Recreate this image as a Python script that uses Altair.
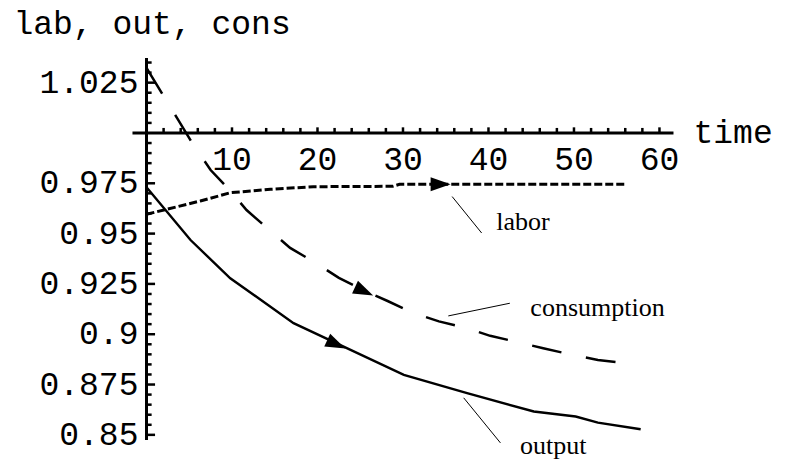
import altair as alt
import pandas as pd

# ---------------- data ----------------
labor_t = [0, 6.3, 9.8, 14.5, 19.5, 28.8, 29.6, 56.0]
labor_v = [0.9596, 0.9662, 0.9703, 0.9720, 0.9733, 0.9735, 0.9745, 0.9745]

output_t = [0, 5.15, 9.8, 17.2, 30.1, 37.5, 45.3, 50.2, 52.8, 57.8]
output_v = [0.9730, 0.9468, 0.9278, 0.9055, 0.8798, 0.8707, 0.8616, 0.8591, 0.8561, 0.8528]

cons_t = [0, 5.5, 7.5, 9.7, 11.7, 14.5, 16.8, 19.8, 22.5, 25.3, 28.2, 31.2,
          34.2, 37.5, 40.2, 43.5, 46.4, 49.9, 52.8, 56.1]
cons_v = [1.0323, 0.9940, 0.9816, 0.9717, 0.9617, 0.9513, 0.9429, 0.9354, 0.9280,
          0.9220, 0.9165, 0.9106, 0.9064, 0.9030, 0.8992, 0.8960, 0.8930, 0.8897,
          0.8872, 0.8856]

x_major = [10, 20, 30, 40, 50, 60]
x_labels = ["10", "20", "30", "40", "50", "60"]
y_major = [0.85, 0.875, 0.9, 0.925, 0.95, 0.975, 1.025]
y_labels = ["0.85", "0.875", "0.9", "0.925", "0.95", "0.975", "1.025"]

title_text = "lab, out, cons"
x_title = "time"
annot_text = ["labor", "consumption", "output"]
annot_t = [40.9, 44.9, 43.7]
annot_v = [0.9520, 0.9091, 0.8405]
pointer_t = [35.75, 35.3, 37.1]
pointer_v = [0.9684, 0.9091, 0.8684]
pointer_t2 = [39.2, 42.5, 41.4]
pointer_v2 = [0.9503, 0.9154, 0.8460]

arrow_t = [34.4, 25.45, 22.2]
arrow_v = [0.9745, 0.9213, 0.8950]
arrow_angle = [0, 25, 25]

# ---------------- scales ----------------
XD = [-16.2, 74.683]
YD = [0.8375, 1.0621]
W, H = 777, 452


def X(f="t", **kw):
    return alt.X(f + ":Q", scale=alt.Scale(domain=XD, nice=False, zero=False), axis=None, **kw)


def Y(f="v", **kw):
    return alt.Y(f + ":Q", scale=alt.Scale(domain=YD, nice=False, zero=False), axis=None, **kw)


def line(ts, vs, **style):
    df = pd.DataFrame({"t": ts, "v": vs, "o": range(len(ts))})
    return alt.Chart(df).mark_line(color="black", **style).encode(
        x=X(), y=Y(), order="o:Q")


layers = []

# axes
xa = pd.DataFrame({"t": [-1.64], "t2": [61.64], "v": [1.0]})
layers.append(alt.Chart(xa).mark_rule(color="black", strokeWidth=3).encode(
    x=X(), x2=alt.X2("t2"), y=Y()))
ya = pd.DataFrame({"t": [0.0], "v": [0.8475], "v2": [1.0373]})
layers.append(alt.Chart(ya).mark_rule(color="black", strokeWidth=3).encode(
    x=X(), y=Y(), y2=alt.Y2("v2")))

# x ticks (upward)
xt = [2 * i for i in range(1, 31)]
xtdf = pd.DataFrame({"t": xt, "v": [1.0] * len(xt),
                     "v2": [1.0 + (0.0028 if t % 10 == 0 else 0.0025) for t in xt]})
layers.append(alt.Chart(xtdf).mark_rule(color="black", strokeWidth=2.5).encode(
    x=X(), y=Y(), y2=alt.Y2("v2")))

# y ticks (to the right)
yt = [round(0.85 + 0.005 * i, 4) for i in range(0, 38)]
yt = [v for v in yt if abs(v - 1.0) > 1e-9]
ytdf = pd.DataFrame({"v": yt, "t": [0.0] * len(yt),
                     "t2": [1.0 if abs(round(v / 0.025) * 0.025 - v) < 1e-9 else 0.6 for v in yt]})
layers.append(alt.Chart(ytdf).mark_rule(color="black", strokeWidth=2.5).encode(
    x=X(), x2=alt.X2("t2"), y=Y()))

# tick labels
xl = pd.DataFrame({"t": x_major, "v": [0.9866] * len(x_major), "s": x_labels})
layers.append(alt.Chart(xl).mark_text(font="Liberation Mono", fontSize=33, align="center",
                                      baseline="middle", color="black").encode(
    x=X(), y=Y(), text="s:N"))
yl = pd.DataFrame({"t": [-0.94] * len(y_major), "v": y_major, "s": y_labels})
layers.append(alt.Chart(yl).mark_text(font="Liberation Mono", fontSize=33, align="right",
                                      baseline="middle", color="black").encode(
    x=X(), y=Y(), text="s:N"))

# axis title + chart title
tt = pd.DataFrame({"t": [63.98, -15.56], "v": [1.0, 1.0492], "s": [x_title, title_text]})
layers.append(alt.Chart(tt.iloc[[0]]).mark_text(font="Liberation Mono", fontSize=33, align="left",
                                                baseline="middle", color="black").encode(
    x=X(), y=Y(), text="s:N"))
layers.append(alt.Chart(tt.iloc[[1]]).mark_text(font="Liberation Mono", fontSize=33, align="left",
                                                baseline="alphabetic", color="black").encode(
    x=X(), y=Y(), text="s:N"))

# series
layers.append(line(output_t, output_v, strokeWidth=2.4))
layers.append(line(cons_t, cons_v, strokeWidth=2.5, strokeDash=[30, 25]))
layers.append(line(labor_t, labor_v, strokeWidth=3, strokeDash=[8, 3]))

# arrowheads
for t, v, a in zip(arrow_t, arrow_v, arrow_angle):
    adf = pd.DataFrame({"t": [t], "v": [v]})
    layers.append(alt.Chart(adf).mark_point(shape="M-1,-0.7L1,0L-1,0.7Z", size=400, filled=True,
                                            color="black", opacity=1, strokeWidth=0,
                                            angle=a).encode(x=X(), y=Y()))

# annotations
pdf = pd.DataFrame({"t": pointer_t, "v": pointer_v, "t2": pointer_t2, "v2": pointer_v2})
layers.append(alt.Chart(pdf).mark_rule(color="black", strokeWidth=1).encode(
    x=X(), y=Y(), x2=alt.X2("t2"), y2=alt.Y2("v2")))
adf = pd.DataFrame({"t": annot_t, "v": annot_v, "s": annot_text})
layers.append(alt.Chart(adf).mark_text(font="Liberation Serif", fontSize=26, align="left",
                                       baseline="alphabetic", color="black").encode(
    x=X(), y=Y(), text="s:N"))

chart = alt.layer(*layers).properties(
    width=W, height=H, padding=0, background="white",
    autosize=alt.AutoSizeParams(type="none"),
).configure_view(stroke=None, strokeWidth=0)

chart.save("out.html", embed_options={"renderer": "svg", "actions": False})
